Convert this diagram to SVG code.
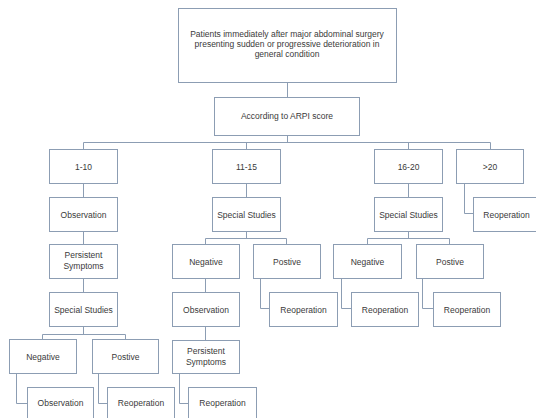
<svg xmlns="http://www.w3.org/2000/svg" width="536" height="418" viewBox="0 0 536 418">
<style>
.b{fill:#ffffff;stroke:#8c9db3;stroke-width:1}
.t{font-family:"Liberation Sans",Arial,sans-serif;font-size:8.5px;fill:#3a3a3a;text-anchor:middle}
.c{fill:none;stroke:#8c9db3;stroke-width:1}
</style>
<rect x="0" y="0" width="536" height="418" fill="#ffffff"/>
<g id="connectors">
<path class="c" d="M287.5,82V97 M287.5,135V142.5 M83.5,142.5H490.5 M83.5,142.5V149 M246.5,142.5V149 M408.5,142.5V149 M490.5,142.5V149"/>
<path class="c" d="M83.5,183V197 M83.5,231V244 M83.5,278V292 M83.5,326V334.5 M42.5,334.5H125.5 M42.5,334.5V339 M125.5,334.5V339"/>
<path class="c" d="M16.5,373V403.5H27 M98.5,373V403.5H107"/>
<path class="c" d="M246.5,183V197 M246.5,231V238.5 M205.5,238.5H286.5 M205.5,238.5V244 M286.5,238.5V244"/>
<path class="c" d="M205.5,278V292 M205.5,326V340 M179.5,373V403.5H188 M260.5,278V308.5H269"/>
<path class="c" d="M408.5,183V197 M408.5,231V238.5 M367.5,238.5H449.5 M367.5,238.5V244 M449.5,238.5V244"/>
<path class="c" d="M341.5,278V308.5H351 M422.5,278V308.5H433 M464.5,183V213.5H473"/>
</g>
<g id="top"><rect class="b" x="178.5" y="8.5" width="218" height="74"/>
<text class="t" x="287" y="37">Patients immediately after major abdominal surgery</text>
<text class="t" x="287" y="47">presenting sudden or progressive deterioration  in</text>
<text class="t" x="287" y="57">general condition</text></g>
<g id="arpi"><rect class="b" x="214.5" y="97.5" width="145" height="38"/><text class="t" x="287" y="119">According to ARPI score</text></g>
<g id="c1"><rect class="b" x="49.5" y="149.5" width="68" height="34"/><text class="t" x="83.5" y="169.5">1-10</text></g>
<g id="c2"><rect class="b" x="212.5" y="149.5" width="68" height="34"/><text class="t" x="246.5" y="169.5">11-15</text></g>
<g id="c3"><rect class="b" x="374.5" y="149.5" width="68" height="34"/><text class="t" x="408.5" y="169.5">16-20</text></g>
<g id="c4"><rect class="b" x="456.5" y="149.5" width="67" height="34"/><text class="t" x="490" y="169.5">&gt;20</text></g>
<g id="obs1"><rect class="b" x="49.5" y="197.5" width="68" height="34"/><text class="t" x="83.5" y="217.5">Observation</text></g>
<g id="ss2"><rect class="b" x="212.5" y="197.5" width="68" height="34"/><text class="t" x="246.5" y="217.5">Special Studies</text></g>
<g id="ss3"><rect class="b" x="374.5" y="197.5" width="68" height="34"/><text class="t" x="408.5" y="217.5">Special Studies</text></g>
<g id="reop4"><rect class="b" x="473.5" y="197.5" width="67" height="34"/><text class="t" x="506.5" y="217.5">Reoperation</text></g>
<g id="pers1"><rect class="b" x="49.5" y="244.5" width="68" height="34"/><text class="t" x="83.5" y="258">Persistent</text><text class="t" x="83.5" y="269">Symptoms</text></g>
<g id="neg2"><rect class="b" x="172.5" y="244.5" width="67" height="34"/><text class="t" x="206" y="264.5">Negative</text></g>
<g id="pos2"><rect class="b" x="253.5" y="244.5" width="67" height="34"/><text class="t" x="287" y="264.5">Postive</text></g>
<g id="neg3"><rect class="b" x="333.5" y="244.5" width="68" height="34"/><text class="t" x="367.5" y="264.5">Negative</text></g>
<g id="pos3"><rect class="b" x="416.5" y="244.5" width="67" height="34"/><text class="t" x="450" y="264.5">Postive</text></g>
<g id="ss1"><rect class="b" x="49.5" y="292.5" width="68" height="34"/><text class="t" x="83.5" y="312.5">Special Studies</text></g>
<g id="obs2"><rect class="b" x="172.5" y="292.5" width="67" height="34"/><text class="t" x="206" y="312.5">Observation</text></g>
<g id="reop2"><rect class="b" x="269.5" y="292.5" width="68" height="34"/><text class="t" x="303.5" y="312.5">Reoperation</text></g>
<g id="reop3n"><rect class="b" x="351.5" y="292.5" width="67" height="34"/><text class="t" x="385" y="312.5">Reoperation</text></g>
<g id="reop3p"><rect class="b" x="433.5" y="292.5" width="67" height="34"/><text class="t" x="467" y="312.5">Reoperation</text></g>
<g id="neg1"><rect class="b" x="9.5" y="339.5" width="67" height="34"/><text class="t" x="43" y="359.5">Negative</text></g>
<g id="pos1"><rect class="b" x="92.5" y="339.5" width="66" height="34"/><text class="t" x="125.5" y="359.5">Postive</text></g>
<g id="pers2"><rect class="b" x="172.5" y="340.5" width="67" height="33"/><text class="t" x="206" y="354">Persistent</text><text class="t" x="206" y="365">Symptoms</text></g>
<g id="obs1b"><rect class="b" x="27.5" y="387.5" width="66" height="34"/><text class="t" x="60.5" y="406">Observation</text></g>
<g id="reop1"><rect class="b" x="107.5" y="387.5" width="67" height="34"/><text class="t" x="141" y="406">Reoperation</text></g>
<g id="reop2b"><rect class="b" x="188.5" y="387.5" width="68" height="34"/><text class="t" x="222.5" y="406">Reoperation</text></g>
</svg>
